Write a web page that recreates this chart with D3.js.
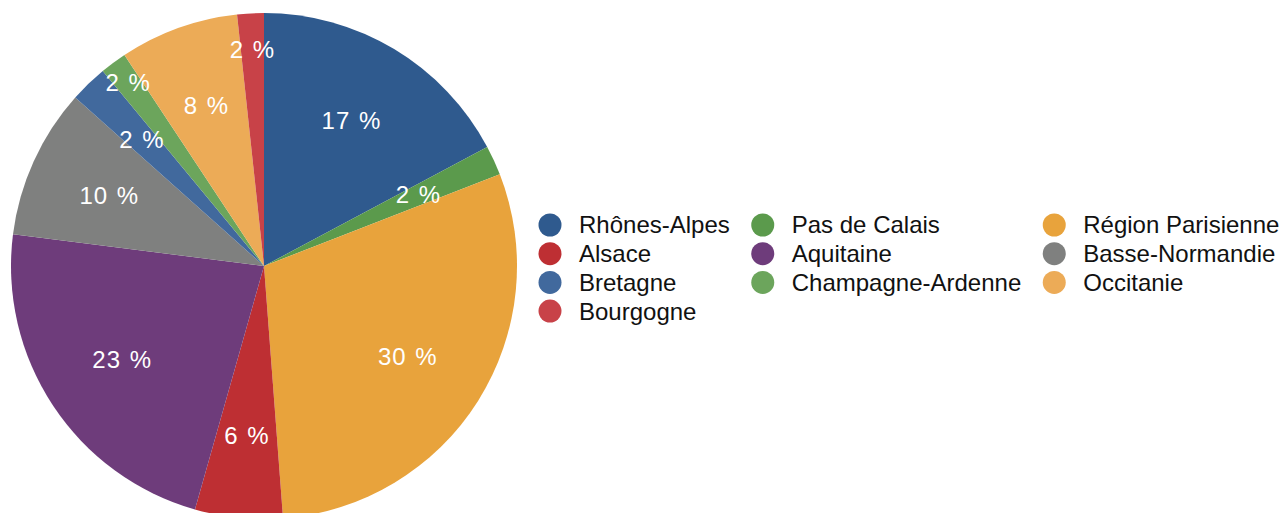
<!DOCTYPE html>
<html>
<head>
<meta charset="utf-8">
<script src="https://cdn.jsdelivr.net/npm/d3@7"></script>
<style>
  body { margin: 0; background: #fff; }
  text { font-family: "Liberation Sans", Arial, Helvetica, sans-serif; }
</style>
</head>
<body>
<div id="chart"></div>
<script>
// regions, in drawing order (clockwise from 12 o'clock)
var regions = ["Rhônes-Alpes", "Pas de Calais", "Région Parisienne", "Alsace", "Aquitaine",
               "Basse-Normandie", "Bretagne", "Champagne-Ardenne", "Occitanie", "Bourgogne"];
// share of each region
var shares = [17.2, 1.9, 29.7, 5.6, 22.6, 9.6, 2.4, 1.7, 7.6, 1.7];
var colors = ["#2f5a8e", "#5b9a4c", "#e8a33c", "#be2f33", "#6e3c7b",
              "#7f807f", "#41699d", "#6ca55c", "#ecab57", "#c84248"];

var width = 1282, height = 513;
var cx = 264, cy = 266, radius = 253;

var svg = d3.select("#chart").append("svg")
    .attr("width", width)
    .attr("height", height);

var data = regions.map(function(name, i) {
    return {"name": name, "value": shares[i], "color": colors[i]};
});
var total = d3.sum(shares);

var pie = d3.pie().sort(null).value(function(d) { return d.value; });
var arcs = pie(data);
var arc = d3.arc().innerRadius(0).outerRadius(radius);

var g = svg.append("g").attr("transform", "translate(" + cx + "," + cy + ")");

g.selectAll("path").data(arcs).enter().append("path")
    .attr("d", arc)
    .attr("fill", function(d) { return d.data.color; });

// labels: start at 2/3 radius, push outward while they collide with earlier ones
var labelRadius = radius * 0.672;
var placed = [];
var labels = g.selectAll("text.lbl").data(arcs).enter().append("text")
    .attr("class", "lbl")
    .attr("text-anchor", "middle")
    .attr("dy", "0.35em")
    .attr("fill", "#fff")
    .style("font-size", "24px")
    .style("letter-spacing", "1px")
    .style("word-spacing", "1px")
    .text(function(d) { return Math.round(d.data.value / total * 100) + " %"; });

labels.each(function(d) {
    var w = this.getComputedTextLength();
    var a = (d.startAngle + d.endAngle) / 2;
    var r = labelRadius, x, y;
    function hits() {
        x = Math.sin(a) * r;
        y = -Math.cos(a) * r;
        return placed.some(function(p) {
            return Math.abs(p.x - x) < (p.w + w) / 2 + 14 && Math.abs(p.y - y) < 56;
        });
    }
    while (hits() && r < radius * 1.2) r += 1;
    placed.push({"x": x, "y": y, "w": w});
    d3.select(this).attr("x", x).attr("y", y);
});

// legend: 3 columns, row-major
var cols = 3, rowH = 28.7, legendTop = 225, legendLeft = 538;
var legend = svg.append("g");
var items = legend.selectAll("g").data(data).enter().append("g");
items.append("circle").attr("r", 11.5).attr("fill", function(d) { return d.color; });
items.append("text")
    .attr("x", 29)
    .attr("dy", "0.35em")
    .attr("fill", "#111")
    .style("font-size", "24px")
    .text(function(d) { return d.name; });

var colW = [];
items.each(function(d, i) {
    var c = i % cols;
    var w = d3.select(this).select("text").node().getComputedTextLength();
    colW[c] = Math.max(colW[c] || 0, w);
});
var colX = [legendLeft];
for (var c = 1; c < cols; c++) colX[c] = colX[c - 1] + 29 + colW[c - 1] + 33;

items.attr("transform", function(d, i) {
    var c = i % cols, row = Math.floor(i / cols);
    return "translate(" + (colX[c] + 12) + "," + (legendTop + row * rowH) + ")";
});
</script>
</body>
</html>
